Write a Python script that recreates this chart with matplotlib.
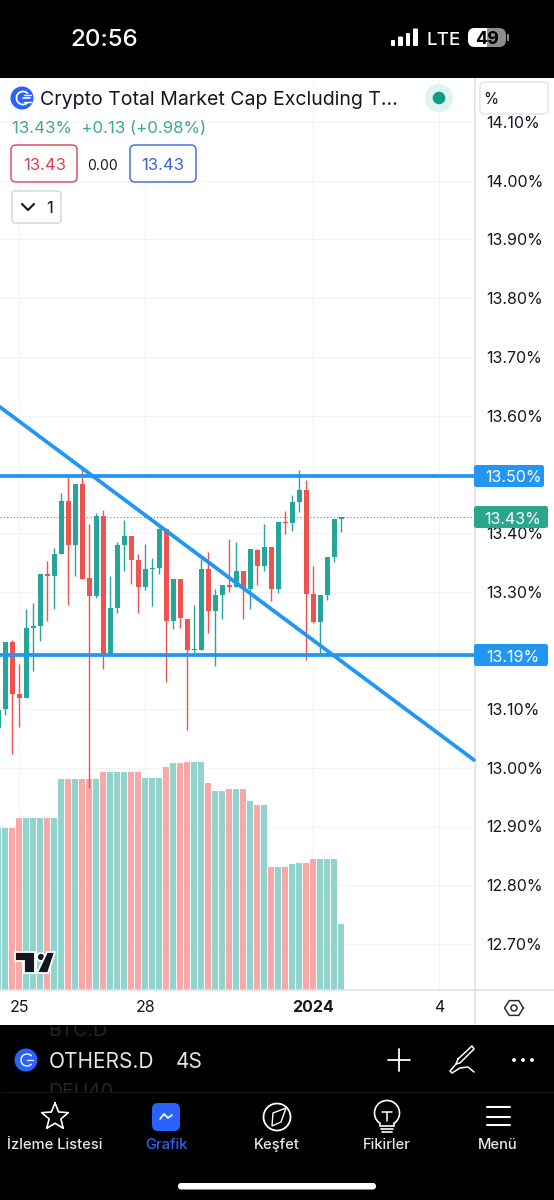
import math
import matplotlib
matplotlib.use("Agg")
import matplotlib.pyplot as plt
from matplotlib.patches import FancyBboxPatch, Rectangle, Circle, Polygon, Arc
from matplotlib.ticker import FixedLocator, FuncFormatter

plt.rcParams['font.family'] = ['Inter', 'DejaVu Sans']

# ---------- data ----------
bar_index = list(range(-1, 49))
opens = [13.068, 13.100, 13.215, 13.125, 13.119, 13.239, 13.241, 13.330, 13.326, 13.364,
         13.455, 13.380, 13.484, 13.323, 13.292, 13.429, 13.192, 13.272, 13.379, 13.395,
         13.354, 13.308, 13.338, 13.340, 13.406, 13.250, 13.321, 13.253, 13.201, 13.201,
         13.338, 13.267, 13.294, 13.312, 13.308, 13.335, 13.305, 13.371, 13.344, 13.376,
         13.304, 13.419, 13.417, 13.452, 13.473, 13.296, 13.248, 13.294, 13.359, 13.423]
highs = [13.120, 13.215, 13.218, 13.177, 13.271, 13.280, 13.330, 13.353, 13.374, 13.468,
         13.495, 13.484, 13.513, 13.415, 13.434, 13.440, 13.327, 13.385, 13.422, 13.395,
         13.364, 13.382, 13.358, 13.408, 13.408, 13.321, 13.321, 13.253, 13.277, 13.355,
         13.367, 13.304, 13.312, 13.389, 13.385, 13.335, 13.372, 13.372, 13.415, 13.377,
         13.418, 13.438, 13.465, 13.507, 13.490, 13.344, 13.294, 13.359, 13.423, 13.427]
lows = [13.068, 13.090, 13.023, 13.070, 13.119, 13.165, 13.216, 13.250, 13.271, 13.364,
        13.277, 13.327, 13.322, 12.965, 13.290, 13.169, 13.192, 13.264, 13.336, 13.313,
        13.263, 13.303, 13.276, 13.330, 13.146, 13.236, 13.238, 13.065, 13.194, 13.201,
        13.230, 13.174, 13.254, 13.300, 13.308, 13.254, 13.271, 13.311, 13.336, 13.285,
        13.297, 13.398, 13.404, 13.436, 13.184, 13.247, 13.195, 13.286, 13.351, 13.402]
closes = [13.098, 13.215, 13.125, 13.119, 13.239, 13.242, 13.330, 13.326, 13.364, 13.455,
          13.380, 13.484, 13.322, 13.292, 13.429, 13.192, 13.272, 13.380, 13.395, 13.354,
          13.308, 13.339, 13.340, 13.407, 13.250, 13.321, 13.255, 13.200, 13.202, 13.338,
          13.267, 13.295, 13.311, 13.308, 13.335, 13.304, 13.372, 13.344, 13.376, 13.304,
          13.418, 13.417, 13.452, 13.473, 13.296, 13.248, 13.294, 13.359, 13.423, 13.427]
volumes = [162, 162, 162, 172, 172, 172, 172, 172, 172, 211,
           211, 211, 211, 211, 211, 218, 218, 218, 218, 218,
           218, 212, 212, 212, 223, 227, 227, 228, 228, 228,
           207, 199, 199, 201, 201, 201, 189, 185, 185, 123,
           123, 123, 126, 127, 127, 131, 131, 131, 131, 66]
directions = [1 if c >= o else -1 for o, c in zip(opens, closes)]

price_ticks = [12.7, 12.8, 12.9, 13.0, 13.1, 13.2, 13.3, 13.4, 13.5, 13.6, 13.7, 13.8, 13.9, 14.0, 14.1]
hidden_price_labels = [13.2, 13.5]   # covered by the price tags in the screenshot
date_ticks = [2, 20, 44, 62]
date_labels = ["25", "28", "2024", "4"]
level_high = 13.497
level_low = 13.193
last_price = 13.427
trend_x = [-0.757, 66.96]
trend_y = [13.6146, 13.0133]

TEAL, RED, BLUE = "#26a69a", "#ef5350", "#2196f3"
W, H = 554, 1200

fig = plt.figure(figsize=(W / 100, H / 100), dpi=100, facecolor="white")

# ---------- chart ----------
ax = fig.add_axes([0, 1 - 990 / H, 475 / W, (990 - 78) / H], zorder=1)
ax.set_facecolor("white")
y_top = 13.30 + (591.7 - 78) / 587
y_bot = 13.30 + (591.7 - 990) / 587
ax.set_xlim(-5.3 / 7, (475 - 5.3) / 7)
ax.set_ylim(y_bot, y_top)
ax.yaxis.tick_right()
ax.yaxis.set_major_locator(FixedLocator(price_ticks))
ax.yaxis.set_major_formatter(FuncFormatter(
    lambda v, _: "" if any(abs(v - h) < 1e-6 for h in hidden_price_labels) else f"{v:.2f}%"))
ax.xaxis.set_major_locator(FixedLocator(date_ticks))
ax.set_xticklabels(date_labels)
ax.tick_params(axis="both", length=0, labelsize=11.5, labelcolor="#131722")
ax.tick_params(axis="y", pad=8)
ax.tick_params(axis="x", pad=7.5)
ax.get_xticklabels()[2].set_fontweight("bold")
ax.grid(True, color="#f2f3f5", lw=0.8, zorder=0)
ax.set_axisbelow(True)
for s in ("top", "left"):
    ax.spines[s].set_visible(False)
for s in ("right", "bottom"):
    ax.spines[s].set_color("#dfe1e6")
    ax.spines[s].set_linewidth(1.2)

vol_scale = 1 / 587
up_vol = "#93d3cd"
dn_vol = "#f8a9a7"
ax.bar(bar_index, [v * vol_scale for v in volumes], bottom=y_bot, width=0.82,
       color=[up_vol if d > 0 else dn_vol for d in directions], zorder=1, linewidth=0)

cols = [TEAL if d > 0 else RED for d in directions]
ax.vlines(bar_index, lows, highs, colors=cols, lw=1.0, zorder=2)
ax.bar(bar_index, [max(abs(c - o), 0.002) for o, c in zip(opens, closes)],
       bottom=[min(o, c) for o, c in zip(opens, closes)],
       width=0.76, color=cols, linewidth=0, zorder=3)

ax.axhline(last_price, color=TEAL, lw=0.8, ls=(0, (1, 2)), zorder=2.5)
ax.axhline(level_high, color=BLUE, lw=2.7, zorder=4)
ax.axhline(level_low, color=BLUE, lw=2.7, zorder=4)
ax.plot(trend_x, trend_y, color=BLUE, lw=2.7, zorder=4, solid_capstyle="round", clip_on=False)

# ---------- screen furniture, in pixel coordinates ----------
ui = fig.add_axes([0, 0, 1, 1], zorder=5)
ui.set_xlim(0, W)
ui.set_ylim(H, 0)
ui.axis("off")
ui.patch.set_alpha(0)

def rrect(x0, y0, x1, y1, r=3, fc="white", ec="none", lw=1.0, z=5):
    p = FancyBboxPatch((x0 + r, y0 + r), x1 - x0 - 2 * r, y1 - y0 - 2 * r,
                       boxstyle=f"round,pad={r},rounding_size={r}", fc=fc, ec=ec, lw=lw, zorder=z)
    ui.add_patch(p)
    return p

def label(x, y, s, size=11, color="#131722", ha="center", weight="normal", z=8, **kw):
    return ui.text(x, y, s, fontsize=size, color=color, ha=ha, va="center_baseline",
                   fontweight=weight, zorder=z, **kw)

def seg(xs, ys, color="white", lw=1.2, z=8):
    ui.plot(xs, ys, color=color, lw=lw, zorder=z, solid_capstyle="round", solid_joinstyle="round")

def clipped(text, x0, y0, x1, y1):
    text.set_clip_path(Rectangle((x0, y0), x1 - x0, y1 - y0, transform=ui.transData))
    text.set_clip_on(True)

# black bands
ui.add_patch(Rectangle((0, 0), W, 78, fc="black", ec="none", zorder=3))
ui.add_patch(Rectangle((0, 1025), W, 175, fc="black", ec="none", zorder=3))
seg([475, 475], [990, 1025], color="#dfe1e6", lw=1.2, z=2)
seg([475, 554], [990, 990], color="#dfe1e6", lw=1.2, z=2)

# status bar
label(104, 38, "20:56", size=17.3, color="white", weight="medium")
for x0, x1, top in [(391, 395, 40), (398, 403, 36.5), (406, 410, 33), (413, 418, 28.5)]:
    rrect(x0, top, x1, 46, r=1, fc="white")
label(443.5, 38.5, "LTE", size=13.5, color="white", weight="medium")
rrect(468, 28, 506, 47, r=7, fc="#8e8e8e")
rrect(468, 28, 492, 47, r=7, fc="white", z=5)
ui.add_patch(Rectangle((480, 28), 6.5, 19, fc="white", ec="none", zorder=5.5))
ui.add_patch(Rectangle((486.5, 28), 12, 19, fc="#8e8e8e", ec="none", zorder=5.5))
rrect(507, 34, 509, 41, r=0.8, fc="#8e8e8e")
label(487, 38, "49", size=13, color="black", weight="bold")

# header
ui.add_patch(Circle((22, 98), 11.5, fc="#2962ff", zorder=5))
ui.add_patch(Arc((23, 98), 13, 13, theta1=40, theta2=320, ec="white", lw=1.3, zorder=6))
seg([23, 30], [98, 98], lw=1.2, z=6)
seg([24, 31], [94.5, 94.5], lw=1.0, z=6)
seg([24, 31], [101.5, 101.5], lw=1.0, z=6)
label(40, 98, "Crypto Total Market Cap Excluding T...", size=14.05, ha="left")
ui.add_patch(Circle((439, 98), 14, fc="#dff3ef", zorder=5))
ui.add_patch(Circle((439, 98), 6.3, fc="#129c86", zorder=6))
rrect(480, 82, 548, 114, r=4, fc="white", ec="#e6e8ec", lw=1.2)
label(491, 98, "%", size=11, ha="center")
label(12, 127, "13.43%  +0.13 (+0.98%)", size=12.1, color="#3bab90", ha="left")
rrect(11, 145, 77, 182, r=5, fc="white", ec="#e0505f", lw=1.1)
label(44.5, 164, "13.43", size=12, color="#e0405a")
label(103, 164, "0.00", size=10, color="#131722")
rrect(130, 145, 196, 182, r=5, fc="white", ec="#4a6fe0", lw=1.1)
label(163, 164, "13.43", size=12, color="#3f63d8")
rrect(12, 191, 61, 223, r=3, fc="white", ec="#d5d7dc", lw=1.1)
seg([22, 28, 34], [204, 210, 204], color="#131722", lw=1.5)
label(49.5, 207, "1", size=12)

# price tags
rrect(474, 465, 544, 487, r=2.5, fc=BLUE)
label(513, 476.5, "13.50%", size=11.5, color="white")
rrect(474, 506, 548, 528, r=2.5, fc="#2aa58e")
label(513, 517.5, "13.43%", size=11.5, color="white")
rrect(474, 644, 548, 666, r=2.5, fc=BLUE)
label(513, 655.5, "13.19%", size=11.5, color="white")

# TradingView mark
logo = dict(fc="#131722", ec="white", lw=1.3, zorder=6)
ui.add_patch(Polygon([(15, 952), (35, 952), (35, 973), (24, 973), (24, 961), (15, 961)], **logo))
ui.add_patch(Circle((41, 957), 4, **logo))
ui.add_patch(Polygon([(47, 952), (55, 952), (48, 973), (37, 973)], **logo))

# settings hexagon
hx = [514 + 9.5 * math.cos(math.radians(a)) for a in range(0, 361, 60)]
hy = [1008 + 8.5 * math.sin(math.radians(a)) for a in range(0, 361, 60)]
seg(hx, hy, color="#2a2e39", lw=1.1)
ui.add_patch(Circle((514, 1008), 3, fc="none", ec="#2a2e39", lw=1.1, zorder=8))

# symbol bar
clipped(label(48, 1029, "BTC.D", size=14, color="#262626", ha="left", z=4), 0, 1026, 554, 1092)
clipped(label(48, 1090, "DEU40", size=14, color="#262626", ha="left", z=4), 0, 1026, 554, 1092)
seg([0, W], [1092, 1092], color="#141414", lw=0.8, z=4.6)
ui.add_patch(Circle((26, 1060), 11.5, fc="#2962ff", zorder=5))
ui.add_patch(Arc((27, 1060), 12, 12, theta1=40, theta2=320, ec="white", lw=1.0, zorder=6))
seg([27, 33], [1060, 1060], lw=0.9, z=6)
clipped(label(49, 1060, "OTHERS.D", size=15, color="#e6e6e6", ha="left"), 0, 1040, 153, 1080)
label(176, 1060, "4S", size=15, color="#e6e6e6", ha="left")
seg([399, 399], [1049, 1071], lw=1.3)
seg([388, 410], [1060, 1060], lw=1.3)
seg([458, 472, 474, 460, 456, 458], [1059, 1046, 1049, 1063, 1064, 1059], lw=1.1)
seg([456, 450, 452, 460, 468, 474], [1064, 1071, 1073, 1068, 1067, 1072], lw=1.1)
for dx in (514, 523, 532):
    ui.add_patch(Circle((dx, 1060), 1.9, fc="white", zorder=8))

# tab bar
star = [(55 + (14 if i % 2 == 0 else 6.2) * math.sin(i * math.pi / 5),
         1117 - (14 if i % 2 == 0 else 6.2) * math.cos(i * math.pi / 5)) for i in range(11)]
seg([p[0] for p in star], [p[1] for p in star], lw=1.2)
rrect(152, 1103, 180, 1131, r=6, fc="#2962ff")
seg([160, 164, 168, 172], [1119, 1114, 1118, 1115], lw=1.2)
ui.add_patch(Circle((277, 1117), 13.5, fc="none", ec="white", lw=1.3, zorder=8))
ui.add_patch(Polygon([(286, 1108), (281, 1122), (272, 1126), (273, 1113)], fc="none", ec="white", lw=1.0, zorder=8))
ui.add_patch(Arc((387, 1113), 25, 25, theta1=125, theta2=55, ec="white", lw=1.2, zorder=8))
seg([380, 380, 394, 394], [1123, 1126, 1126, 1123], lw=1.2)
seg([381, 393], [1129, 1129], lw=1.2)
seg([382, 392], [1132, 1132], lw=1.2)
seg([382, 392], [1112, 1112], lw=1.1)
seg([387, 387], [1112, 1121], lw=1.1)
for hy_ in (1107, 1116.5, 1125):
    seg([487, 510], [hy_, hy_], lw=1.5)
for x, s, c in [(55, "İzleme Listesi", "#e6e6e6"), (166, "Grafik", "#2962ff"),
                (277, "Keşfet", "#e6e6e6"), (387, "Fikirler", "#e6e6e6"), (498, "Menü", "#e6e6e6")]:
    label(x, 1143.5, s, size=10.6, color=c, weight="medium")
rrect(178, 1183, 376, 1189.5, r=3, fc="white")

fig.savefig("out.png", dpi=100, facecolor="white")
